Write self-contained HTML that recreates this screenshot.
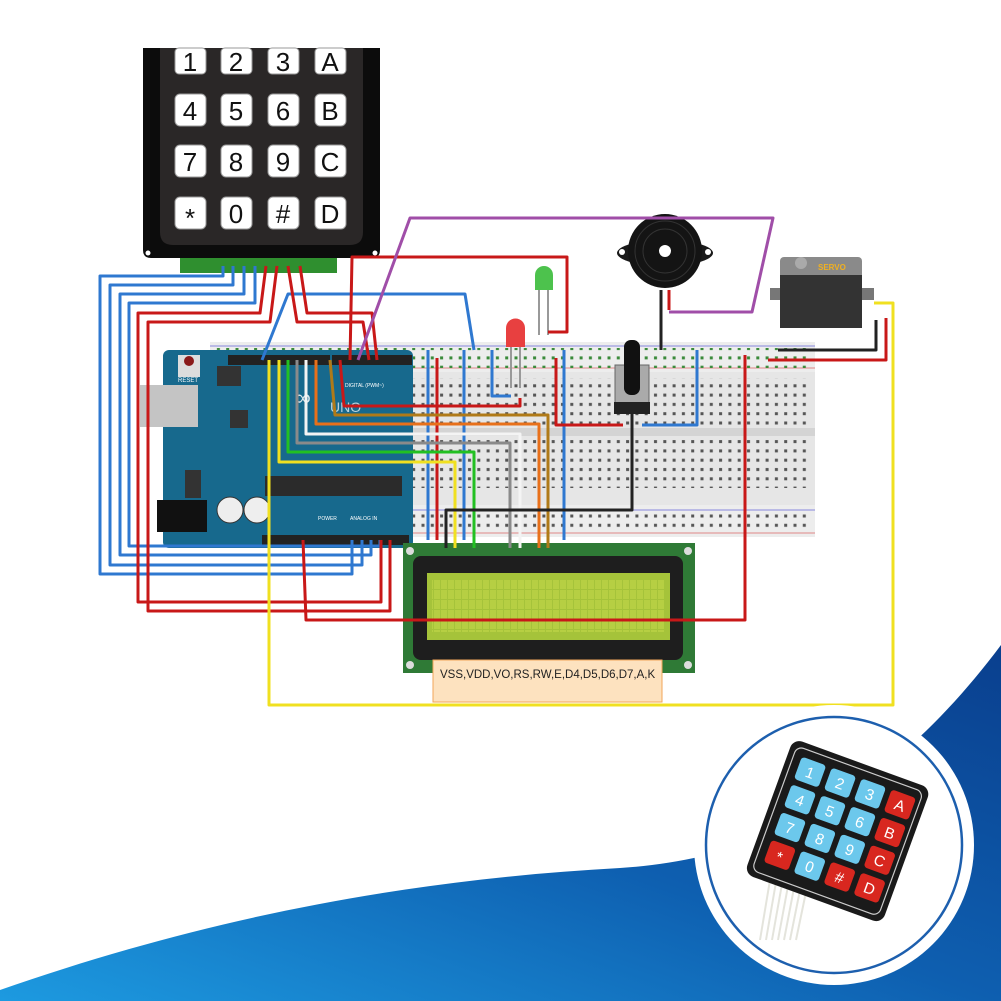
<!DOCTYPE html>
<html><head><meta charset="utf-8"><style>
html,body{margin:0;padding:0;background:#fff;}
svg{display:block;font-family:"Liberation Sans",sans-serif;}
</style></head><body>
<svg width="1001" height="1001" viewBox="0 0 1001 1001" xmlns="http://www.w3.org/2000/svg">
<defs>
<linearGradient id="sw" x1="0" y1="1" x2="1" y2="0">
<stop offset="0" stop-color="#1d9ae0"/><stop offset="0.5" stop-color="#0e5fb0"/><stop offset="1" stop-color="#0a3f8e"/></linearGradient>
<pattern id="holes" x="0" y="0" width="9.3" height="9.3" patternUnits="userSpaceOnUse">
<rect x="3" y="3" width="3" height="3" fill="#555"/></pattern>
<pattern id="rail" x="0" y="0" width="9.3" height="9.3" patternUnits="userSpaceOnUse">
<rect x="3" y="3" width="3" height="3" fill="#3a8a3a"/></pattern>
<pattern id="lcdg" x="0" y="0" width="7" height="10" patternUnits="userSpaceOnUse">
<rect width="6" height="9" fill="#b6cf43"/></pattern>
</defs>
<rect width="1001" height="1001" fill="#fff"/>
<path d="M0,1001 L0,990 C200,920 400,880 620,868 C780,858 900,780 1001,645 L1001,1001 Z" fill="url(#sw)"/>

<!-- keypad -->
<rect x="180" y="255" width="157" height="18" fill="#2f8f2f"/>
<path d="M143,48 H380 V250 Q380,258 372,258 H151 Q143,258 143,250 Z" fill="#0c0c0c"/>
<path d="M160,48 H363 V232 Q363,245 350,245 H173 Q160,245 160,232 Z" fill="#2a2727"/>
<g fill="#fff" stroke="#999" stroke-width="1">
<rect x="175" y="94" width="31" height="32" rx="5"/><rect x="221" y="94" width="31" height="32" rx="5"/><rect x="268" y="94" width="31" height="32" rx="5"/><rect x="315" y="94" width="31" height="32" rx="5"/>
<rect x="175" y="145" width="31" height="32" rx="5"/><rect x="221" y="145" width="31" height="32" rx="5"/><rect x="268" y="145" width="31" height="32" rx="5"/><rect x="315" y="145" width="31" height="32" rx="5"/>
<rect x="175" y="197" width="31" height="32" rx="5"/><rect x="221" y="197" width="31" height="32" rx="5"/><rect x="268" y="197" width="31" height="32" rx="5"/><rect x="315" y="197" width="31" height="32" rx="5"/>
<rect x="175" y="48" width="31" height="26" rx="4"/><rect x="221" y="48" width="31" height="26" rx="4"/><rect x="268" y="48" width="31" height="26" rx="4"/><rect x="315" y="48" width="31" height="26" rx="4"/>
</g>
<g font-size="26" fill="#111" text-anchor="middle">
<text x="190" y="71">1</text><text x="236" y="71">2</text><text x="283" y="71">3</text><text x="330" y="71">A</text>
<text x="190" y="120">4</text><text x="236" y="120">5</text><text x="283" y="120">6</text><text x="330" y="120">B</text>
<text x="190" y="171">7</text><text x="236" y="171">8</text><text x="283" y="171">9</text><text x="330" y="171">C</text>
<text x="190" y="227">*</text><text x="236" y="223">0</text><text x="283" y="223">#</text><text x="330" y="223">D</text>
</g>
<circle cx="148" cy="253" r="2.5" fill="#fff"/><circle cx="375" cy="253" r="2.5" fill="#fff"/>

<!-- breadboard -->
<rect x="210" y="342" width="605" height="195" fill="#e6e6e6"/>
<rect x="210" y="342" width="605" height="30" fill="#ededed"/>
<line x1="210" y1="346" x2="815" y2="346" stroke="#8888dd" stroke-width="1"/>
<line x1="210" y1="368" x2="815" y2="368" stroke="#e08888" stroke-width="1"/>
<rect x="215" y="348" width="596" height="20" fill="url(#rail)"/>
<rect x="215" y="378" width="596" height="48" fill="url(#holes)"/>
<rect x="210" y="428" width="605" height="8" fill="#d4d4d4"/>
<rect x="215" y="440" width="596" height="48" fill="url(#holes)"/>
<rect x="210" y="505" width="605" height="32" fill="#ededed"/>
<line x1="210" y1="510" x2="815" y2="510" stroke="#8888dd"/>
<line x1="210" y1="533" x2="815" y2="533" stroke="#e08888"/>
<rect x="215" y="512" width="596" height="20" fill="url(#holes)"/>

<!-- arduino -->
<rect x="163" y="350" width="250" height="198" rx="6" fill="#17698d"/>
<rect x="140" y="385" width="58" height="42" fill="#c4c4c4"/>
<rect x="157" y="500" width="50" height="32" fill="#111"/>
<circle cx="230" cy="510" r="13" fill="#eee" stroke="#333"/><circle cx="257" cy="510" r="13" fill="#eee" stroke="#333"/>
<rect x="178" y="355" width="22" height="22" fill="#ddd"/><circle cx="189" cy="361" r="5" fill="#8a1a1a"/>
<text x="178" y="382" font-size="6" fill="#fff">RESET</text>
<rect x="217" y="366" width="24" height="20" fill="#333"/>
<rect x="230" y="410" width="18" height="18" fill="#333"/>
<rect x="185" y="470" width="16" height="28" fill="#333"/>
<rect x="265" y="476" width="137" height="20" fill="#2b2b2b"/>
<rect x="228" y="355" width="102" height="10" fill="#222"/>
<rect x="332" y="355" width="80" height="10" fill="#222"/>
<rect x="262" y="535" width="86" height="10" fill="#222"/>
<rect x="347" y="535" width="62" height="10" fill="#222"/>
<text x="295" y="405" font-size="22" fill="#fff" opacity="0.85">∞</text>
<text x="330" y="412" font-size="14" fill="#fff" opacity="0.7">UNO</text>
<text x="345" y="387" font-size="5" fill="#fff">DIGITAL (PWM~)</text>
<text x="350" y="520" font-size="5" fill="#fff">ANALOG IN</text>
<text x="318" y="520" font-size="5" fill="#fff">POWER</text>

<!-- LCD -->
<rect x="403" y="543" width="292" height="130" fill="#2f7a36"/>
<circle cx="410" cy="551" r="4" fill="#ddd"/><circle cx="688" cy="551" r="4" fill="#ddd"/><circle cx="410" cy="665" r="4" fill="#ddd"/><circle cx="688" cy="665" r="4" fill="#ddd"/>
<rect x="413" y="556" width="270" height="104" rx="8" fill="#1e1e1e"/>
<rect x="427" y="573" width="243" height="67" fill="#a5c33a"/>
<rect x="432" y="580" width="233" height="52" fill="url(#lcdg)"/>
<rect x="433" y="660" width="229" height="42" fill="#fde2bf" stroke="#f2a55a"/>
<text x="440" y="678" font-size="11.5" fill="#222">VSS,VDD,VO,RS,RW,E,D4,D5,D6,D7,A,K</text>

<!-- buzzer -->
<ellipse cx="665" cy="253" rx="48" ry="13" fill="#1a1a1a"/>
<circle cx="665" cy="251" r="37" fill="#141414"/>
<circle cx="665" cy="251" r="30" fill="none" stroke="#333"/><circle cx="665" cy="251" r="22" fill="none" stroke="#333"/>
<circle cx="665" cy="251" r="6" fill="#fff"/>
<circle cx="622" cy="252" r="3" fill="#fff"/><circle cx="708" cy="252" r="3" fill="#fff"/>
<!-- servo -->
<rect x="770" y="288" width="104" height="12" fill="#777"/>
<rect x="780" y="257" width="82" height="25" rx="4" fill="#8a8a8a"/>
<rect x="780" y="275" width="82" height="53" fill="#333"/>
<circle cx="801" cy="263" r="6" fill="#aaa"/>
<text x="818" y="270" font-size="8" font-weight="bold" fill="#f0b020">SERVO</text>
<!-- LEDs -->
<line x1="539" y1="288" x2="539" y2="335" stroke="#999" stroke-width="2"/><line x1="548" y1="288" x2="548" y2="335" stroke="#999" stroke-width="2"/>
<path d="M535,290 V275 a9,9 0 0 1 18,0 V290 Z" fill="#4dc24d"/>
<line x1="511" y1="345" x2="511" y2="388" stroke="#999" stroke-width="2"/><line x1="520" y1="345" x2="520" y2="388" stroke="#999" stroke-width="2"/>
<path d="M506,347 V328 a9.5,9.5 0 0 1 19,0 V347 Z" fill="#e84040"/>
<!-- pot -->
<rect x="615" y="365" width="34" height="45" fill="#aaa" stroke="#666"/>
<rect x="614" y="402" width="36" height="12" fill="#222"/>
<rect x="624" y="340" width="16" height="55" rx="7" fill="#111"/>

<!-- wires -->
<g fill="none" stroke-width="3" stroke-linejoin="round">
<g stroke="#2f78d0">
<polyline points="223,266 223,276 100,276 100,574 352,574 352,540"/>
<polyline points="233,266 233,285 110,285 110,565 362,565 362,540"/>
<polyline points="244,266 244,294 120,294 120,555 371,555 371,540"/>
<polyline points="255,266 255,303 129,303 129,546 380,546 380,540"/>
<polyline points="262,360 288,294 465,294 474,350"/>
<polyline points="428,350 428,540"/><polyline points="464,350 464,540"/>
<polyline points="492,350 492,396 511,396"/>
<polyline points="564,350 564,540"/><polyline points="697,350 697,425 642,425"/>
</g>
<g stroke="#c81818">
<polyline points="266,266 260,313 138,313 138,602 381,602 381,540"/>
<polyline points="277,266 270,322 148,322 148,611 390,611 390,540"/>
<polyline points="288,266 297,322 363,322 369,360"/>
<polyline points="300,266 307,313 372,313 377,360"/>
<polyline points="350,360 352,257 567,257 567,332 548,332"/>
<polyline points="340,360 344,406 520,406 520,398"/>
<polyline points="303,540 306,620 745,620 745,355"/>
<polyline points="437,358 437,540"/><polyline points="556,358 556,425 623,425"/>
<polyline points="768,360 886,360 886,318"/>
<polyline points="669,290 669,310"/>
</g>
<polyline stroke="#a04ea8" points="358,360 410,218 773,218 752,312 669,312"/>
<polyline stroke="#b07a18" points="330,360 335,415 548,415 548,548"/>
<polyline stroke="#e8701a" points="316,360 316,424 539,424 539,548"/>
<polyline stroke="#f4f4f4" points="306,360 306,434 520,434 520,548"/>
<polyline stroke="#8a8a8a" points="297,360 297,443 510,443 510,548"/>
<polyline stroke="#22c022" points="288,360 288,452 474,452 474,548"/>
<polyline stroke="#f0e020" points="279,360 279,462 455,462 455,548"/>
<polyline stroke="#f0e020" points="269,360 269,705 893,705 893,303 874,303"/>
<g stroke="#222"><polyline points="661,290 661,350"/><polyline points="632,410 632,510 446,510 446,548"/>
<polyline points="778,350 876,350 876,320"/></g>
</g>

<!-- circle inset -->
<circle cx="834" cy="845" r="140" fill="#fff"/>
<circle cx="834" cy="845" r="128" fill="#fff" stroke="#1d5fae" stroke-width="2.5"/>
<g stroke="#e4e4dc" stroke-width="2"><line x1="770" y1="880" x2="760" y2="940"/><line x1="776" y1="882" x2="766" y2="940"/><line x1="782" y1="884" x2="772" y2="940"/><line x1="788" y1="886" x2="778" y2="940"/><line x1="794" y1="888" x2="784" y2="940"/><line x1="800" y1="890" x2="790" y2="940"/><line x1="806" y1="892" x2="796" y2="940"/></g>
<g transform="translate(838,830) rotate(20) scale(1.18)">
<rect x="-62" y="-60" width="124" height="122" rx="8" fill="#1a1a1a"/>
<rect x="-57" y="-55" width="114" height="112" rx="6" fill="none" stroke="#ccc" stroke-width="1"/>
<g fill="#6cc8ec">
<rect x="-50" y="-48" width="22" height="20" rx="3"/><rect x="-23" y="-48" width="22" height="20" rx="3"/><rect x="4" y="-48" width="22" height="20" rx="3"/>
<rect x="-50" y="-23" width="22" height="20" rx="3"/><rect x="-23" y="-23" width="22" height="20" rx="3"/><rect x="4" y="-23" width="22" height="20" rx="3"/>
<rect x="-50" y="2" width="22" height="20" rx="3"/><rect x="-23" y="2" width="22" height="20" rx="3"/><rect x="4" y="2" width="22" height="20" rx="3"/>
<rect x="-23" y="27" width="22" height="20" rx="3"/></g>
<g fill="#d8271f">
<rect x="31" y="-48" width="22" height="20" rx="3"/><rect x="31" y="-23" width="22" height="20" rx="3"/><rect x="31" y="2" width="22" height="20" rx="3"/><rect x="31" y="27" width="22" height="20" rx="3"/>
<rect x="-50" y="27" width="22" height="20" rx="3"/><rect x="4" y="27" width="22" height="20" rx="3"/></g>
<g font-size="13" fill="#fff" text-anchor="middle">
<text x="-39" y="-33">1</text><text x="-12" y="-33">2</text><text x="15" y="-33">3</text><text x="42" y="-33">A</text>
<text x="-39" y="-8">4</text><text x="-12" y="-8">5</text><text x="15" y="-8">6</text><text x="42" y="-8">B</text>
<text x="-39" y="17">7</text><text x="-12" y="17">8</text><text x="15" y="17">9</text><text x="42" y="17">C</text>
<text x="-39" y="43">*</text><text x="-12" y="42">0</text><text x="15" y="42">#</text><text x="42" y="42">D</text>
</g></g>
</svg>
</body></html>
